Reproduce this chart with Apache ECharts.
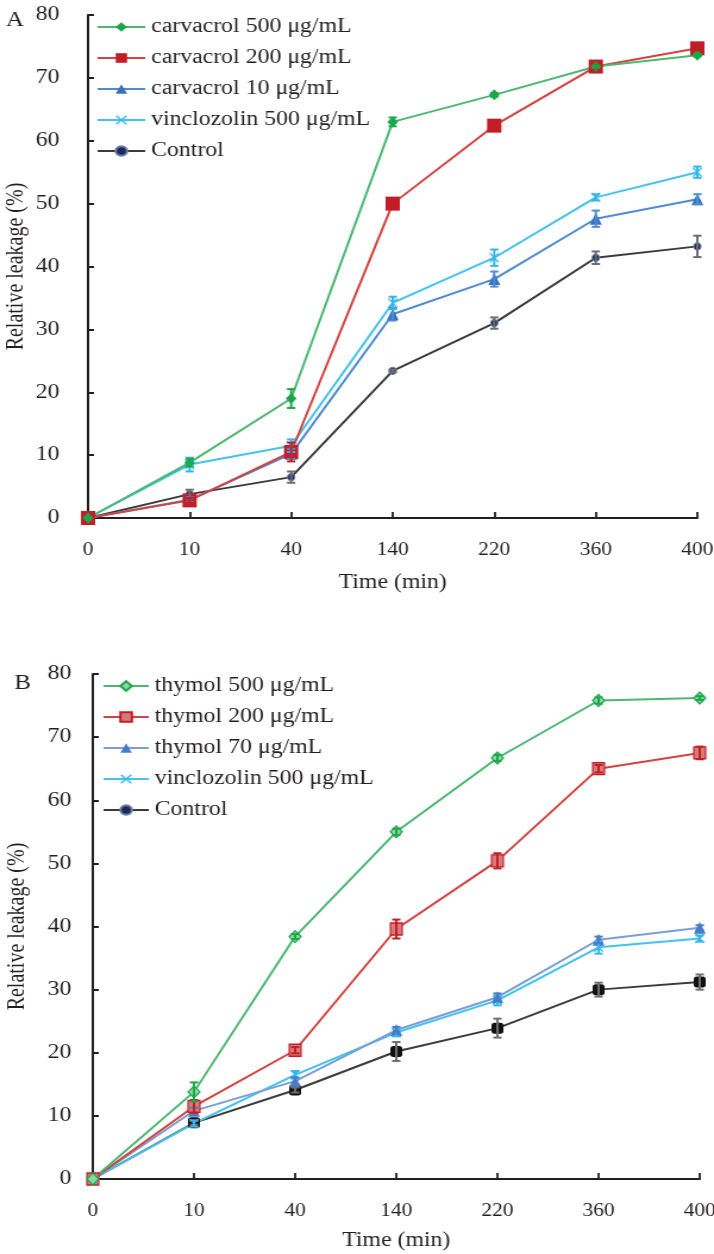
<!DOCTYPE html>
<html><head><meta charset="utf-8">
<script src="https://cdn.jsdelivr.net/npm/echarts@6/dist/echarts.min.js"></script>
<style>
html,body{margin:0;padding:0;background:#fff;overflow:hidden}
#wrap{width:714px;height:1254px;overflow:hidden}
#c{width:620px;height:1254px;transform:scaleX(1.19);transform-origin:0 0}
</style>
</head><body><div id="wrap"><div id="c"></div></div>
<script>
const timeLabels = ['0','10','40','140','220','360','400'];
const yTicks = [0,10,20,30,40,50,60,70,80];

// Panel A
const aNames = ['carvacrol 500 μg/mL','carvacrol 200 μg/mL','carvacrol 10 μg/mL','vinclozolin 500 μg/mL','Control'];
const aCarv500 = [0, 8.8, 19.0, 63.0, 67.3, 71.8, 73.6];
const aCarv500Err = [0, 0.6, 1.5, 0.7, 0.3, 0.2, 0.2];
const aCarv200 = [0, 2.8, 10.5, 50.0, 62.4, 71.8, 74.7];
const aCarv200Err = [0, 0.4, 1.5, 0.8, 0.3, 0.3, 0.3];
const aCarv10 = [0, 2.9, 10.2, 32.4, 38.0, 47.6, 50.7];
const aCarv10Err = [0, 0.4, 0.8, 1.0, 1.2, 1.3, 0.8];
const aVinc = [0, 8.5, 11.5, 34.2, 41.4, 51.0, 55.0];
const aVincErr = [0, 1.1, 1.0, 1.0, 1.3, 0.5, 0.9];
const aCtrl = [0, 3.8, 6.5, 23.4, 31.0, 41.4, 43.2];
const aCtrlErr = [0, 0.7, 0.9, 0.2, 0.9, 1.0, 1.7];

// Panel B
const bNames = ['thymol 500 μg/mL','thymol 200 μg/mL','thymol 70 μg/mL','vinclozolin 500 μg/mL','Control'];
const bThy500 = [0, 13.8, 38.4, 55.0, 66.7, 75.8, 76.2];
const bThy500Err = [0, 1.5, 0.4, 0.5, 0.5, 0.5, 0.3];
const bThy200 = [0, 11.5, 20.4, 39.6, 50.4, 65.0, 67.5];
const bThy200Err = [0, 1.0, 0.5, 1.5, 1.2, 0.6, 1.0];
const bThy70 = [0, 10.8, 15.5, 23.6, 28.8, 37.9, 39.8];
const bThy70Err = [0, 0.5, 0.6, 0.5, 0.6, 0.5, 0.4];
const bVinc = [0, 8.8, 16.5, 23.2, 28.3, 36.7, 38.1];
const bVincErr = [0, 0.5, 0.6, 0.6, 0.8, 1.0, 0.5];
const bCtrl = [0, 8.9, 14.1, 20.2, 23.9, 30.0, 31.2];
const bCtrlErr = [0, 0.3, 0.4, 1.5, 1.5, 1.1, 1.2];

const FONT = '"Liberation Serif","Times New Roman",serif';
const X_SYM = 'path://M0,1L1,0L5,4L9,0L10,1L6,5L10,9L9,10L5,6L1,10L0,9L4,5Z';
const INK = '#231f20';

function lineSeries(idx, name, data, lineColor, sym, symSize, fill, border) {
  return {
    type: 'line', name: name, xAxisIndex: idx, yAxisIndex: idx, data: data,
    symbol: sym, symbolSize: symSize, showAllSymbol: true,
    lineStyle: {color: lineColor, width: 2},
    itemStyle: {color: fill, borderColor: border || fill, borderWidth: border ? 1.2 : 0},
    emphasis: {disabled: true}, z: 3, animation: false
  };
}
function errSeries(idx, vals, errs, color) {
  return {
    type: 'custom', xAxisIndex: idx, yAxisIndex: idx, z: 4, silent: true, animation: false,
    data: vals.map((v, i) => [i, v, errs[i]]),
    renderItem: function (params, api) {
      const i = api.value(0), v = api.value(1), e = api.value(2);
      if (!e) return null;
      const hi = api.coord([i, v + e]);
      const lo = api.coord([i, v - e]);
      const w = 3.5;
      const st = {stroke: color, lineWidth: 2};
      return {type: 'group', children: [
        {type: 'line', shape: {x1: hi[0], y1: hi[1], x2: lo[0], y2: lo[1]}, style: st},
        {type: 'line', shape: {x1: hi[0]-w, y1: hi[1], x2: hi[0]+w, y2: hi[1]}, style: st},
        {type: 'line', shape: {x1: lo[0]-w, y1: lo[1], x2: lo[0]+w, y2: lo[1]}, style: st}
      ]};
    }
  };
}
function xAxis(idx, labelMargin, nameGap) {
  return {
    type: 'category', gridIndex: idx, data: timeLabels, boundaryGap: false,
    name: 'Time (min)', nameLocation: 'middle', nameGap: nameGap, nameMoveOverlap: false,
    nameTextStyle: {fontFamily: FONT, fontSize: 20, color: INK},
    axisLine: {lineStyle: {color: INK, width: 2}},
    axisTick: {inside: true, length: 6, alignWithLabel: true, lineStyle: {color: INK, width: 1.8}},
    axisLabel: {fontFamily: FONT, fontSize: 18, color: INK, margin: labelMargin, interval: 0},
    splitLine: {show: false}
  };
}
function yAxis(idx, labelMargin, nameGap) {
  return {
    type: 'value', gridIndex: idx, min: 0, max: 80, interval: 10,
    name: 'Relative leakage (%)', nameLocation: 'middle', nameGap: nameGap, nameRotate: 90, nameMoveOverlap: false,
    nameTextStyle: {fontFamily: FONT, fontSize: 20, color: INK},
    axisLine: {show: true, lineStyle: {color: INK, width: 2}},
    axisTick: {show: true, inside: true, length: 5, lineStyle: {color: INK, width: 2}},
    axisLabel: {fontFamily: FONT, fontSize: 20, color: INK, margin: labelMargin,
      formatter: v => yTicks.indexOf(v) >= 0 ? String(v) : ''},
    splitLine: {show: false}
  };
}
function legend(names, left, top, iw) {
  return {
    data: names, orient: 'vertical', left: left, top: top,
    itemWidth: iw, itemHeight: 12, itemGap: 11,
    textStyle: {fontFamily: FONT, fontSize: 20, color: INK, lineHeight: 20},
    selectedMode: false, padding: 0
  };
}

const GREEN_L = '#4cb872', GREEN_M = '#1aa84a';
const RED_L = '#d6423f', RED_M = '#c21e28';
const BLUE_L = '#4f8cd2', BLUE_M = '#3a70c0';
const LB_L = '#42c3f0', LB_M = '#35b6ea';
const DK_L = '#3b3b3b';

const option = {
  backgroundColor: '#fff',
  animation: false,
  title: [
    {text: 'A', left: 0, top: 5, textStyle: {fontFamily: FONT, fontSize: 21, fontWeight: 'normal', color: INK}},
    {text: 'B', left: 7, top: 668, textStyle: {fontFamily: FONT, fontSize: 21, fontWeight: 'normal', color: INK}}
  ],
  grid: [
    {left: 74, top: 15, right: 34, bottom: 736, outerBoundsMode: 'none', containLabel: false},
    {left: 78, top: 674, right: 32, bottom: 75, outerBoundsMode: 'none', containLabel: false}
  ],
  xAxis: [xAxis(0, 23, 55), xAxis(1, 23, 52)],
  yAxis: [yAxis(0, 24, 50), yAxis(1, 18, 53)],
  legend: [legend(aNames, 81, 17, 40), legend(bNames, 86, 676, 38)],
  series: [
    lineSeries(0, aNames[4], aCtrl, DK_L, 'circle', [6, 7], '#1c2b57', '#6b7fa8'),
    lineSeries(0, aNames[2], aCarv10, BLUE_L, 'triangle', [10, 12], BLUE_M),
    lineSeries(0, aNames[3], aVinc, LB_L, X_SYM, [8, 10], LB_M),
    lineSeries(0, aNames[1], aCarv200, RED_L, 'rect', [12, 14], RED_M),
    lineSeries(0, aNames[0], aCarv500, GREEN_L, 'diamond', [9, 11], GREEN_M),
    errSeries(0, aCtrl, aCtrlErr, '#6e6e6e'),
    errSeries(0, aCarv10, aCarv10Err, BLUE_L),
    errSeries(0, aVinc, aVincErr, LB_M),
    errSeries(0, aCarv200, aCarv200Err, RED_M),
    errSeries(0, aCarv500, aCarv500Err, GREEN_M),

    lineSeries(1, bNames[4], bCtrl, DK_L, 'roundRect', [10, 11], '#111111'),
    lineSeries(1, bNames[3], bVinc, LB_L, X_SYM, [8, 10], LB_M),
    lineSeries(1, bNames[2], bThy70, '#7a9fd6', 'triangle', [10, 12], '#4a7cc6'),
    lineSeries(1, bNames[1], bThy200, RED_L, 'rect', [10, 12], '#d77a7a', RED_M),
    lineSeries(1, bNames[0], bThy500, GREEN_L, 'diamond', [10, 12], '#8ad6a4', GREEN_M),
    errSeries(1, bCtrl, bCtrlErr, '#6e6e6e'),
    errSeries(1, bVinc, bVincErr, LB_M),
    errSeries(1, bThy70, bThy70Err, '#4a7cc6'),
    errSeries(1, bThy200, bThy200Err, RED_M),
    errSeries(1, bThy500, bThy500Err, GREEN_M)
  ]
};
const chart = echarts.init(document.getElementById('c'), null, {renderer: 'canvas'});
chart.setOption(option);
</script></body></html>
